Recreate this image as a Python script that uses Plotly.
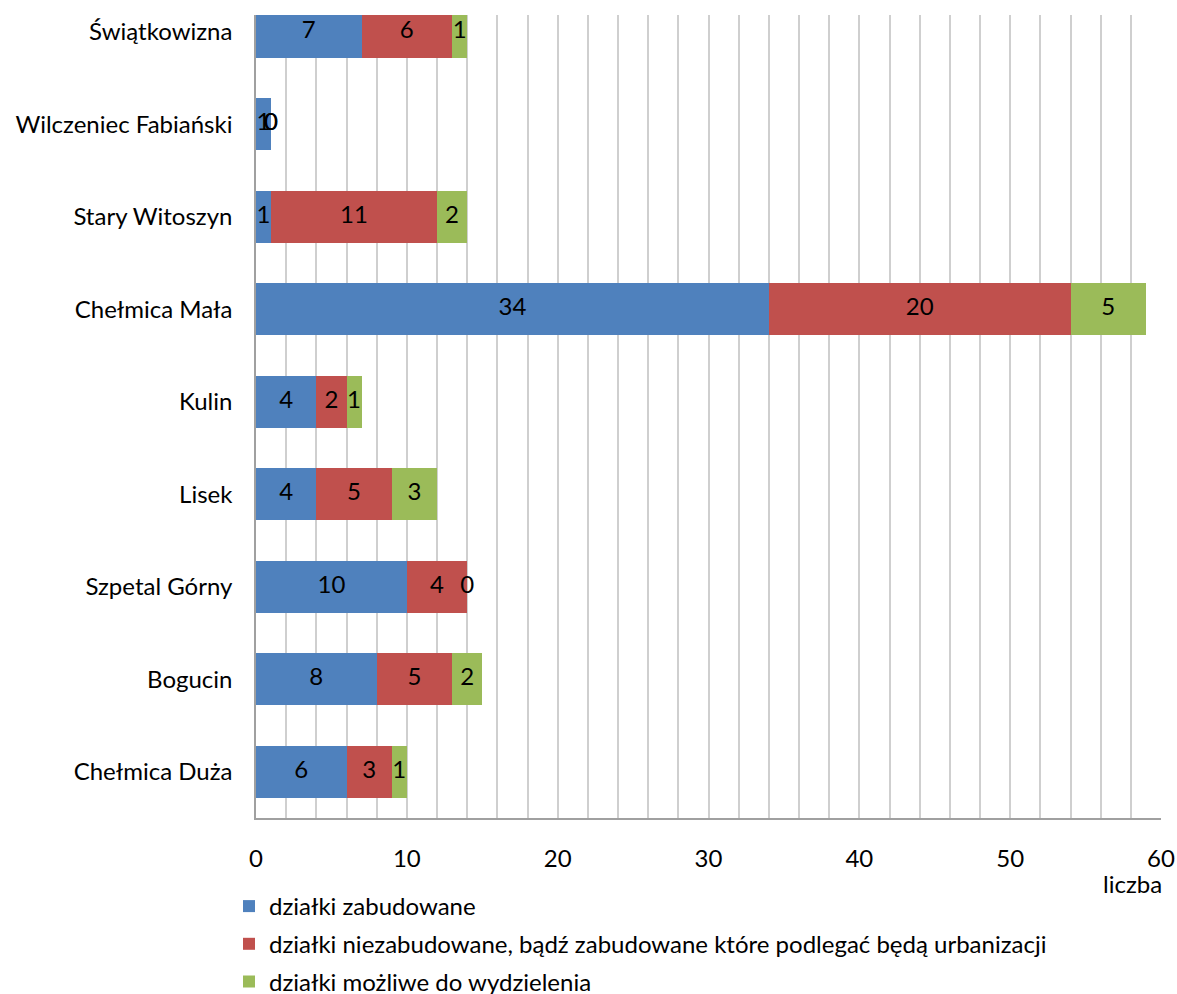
import plotly.graph_objects as go
import numpy as np

categories = ["Chełmica Duża", "Bogucin", "Szpetal Górny", "Lisek", "Kulin",
              "Chełmica Mała", "Stary Witoszyn", "Wilczeniec Fabiański", "Świątkowizna"]
zabudowane = [6, 8, 10, 4, 4, 34, 1, 1, 7]
niezabudowane = [3, 5, 4, 5, 2, 20, 11, 0, 6]
mozliwe = [1, 2, 0, 3, 1, 5, 2, 0, 1]

series_names = ["działki zabudowane",
                "działki niezabudowane, bądź zabudowane które podlegać będą urbanizacji",
                "działki możliwe do wydzielenia"]
series_values = [zabudowane, niezabudowane, mozliwe]
colors = ["#4F81BD", "#C0504D", "#9BBB59"]

xticks = [0, 10, 20, 30, 40, 50, 60]
x_title = "liczba"

FONT = "Lato"
FS = 24
fig = go.Figure()

for i, (name, vals, col) in enumerate(zip(series_names, series_values, colors)):
    fig.add_trace(go.Bar(
        y=categories, x=vals, name=name, orientation="h",
        marker=dict(color=col, line=dict(width=0)),
        legendgroup=f"g{i}", hoverinfo="x+name",
    ))

# data labels (including zeros) at centre of each segment
base = np.zeros(len(categories))
for vals in series_values:
    v = np.array(vals, dtype=float)
    centers = base + v / 2
    fig.add_trace(go.Scatter(
        y=categories, x=centers, mode="text", text=[str(int(a)) for a in v],
        textposition="middle center",
        textfont=dict(family=FONT, size=FS, color="#000000"),
        showlegend=False, hoverinfo="skip", cliponaxis=False,
    ))
    base = base + v

fig.update_layout(
    width=1177, height=994,
    barmode="stack", bargap=0.44,
    plot_bgcolor="white", paper_bgcolor="white",
    margin=dict(l=256, r=16, t=15, b=176, autoexpand=False),
    font=dict(family=FONT, size=FS, color="#000000"),
    showlegend=True,
    legend=dict(
        xref="container", yref="container",
        x=229 / 1177, y=1 - 884 / 994, xanchor="left", yanchor="top",
        traceorder="grouped", tracegroupgap=3.5,
        font=dict(family=FONT, size=FS, color="#000000"),
        bgcolor="rgba(0,0,0,0)", itemclick=False,
    ),
    xaxis=dict(
        range=[0, 60], tickvals=xticks, showgrid=True,
        gridcolor="#CFCFCF", gridwidth=1.5,
        minor=dict(dtick=2, showgrid=True, gridcolor="#CFCFCF", gridwidth=1.5),
        showline=True, linecolor="#A0A0A0", linewidth=1.5,
        zeroline=False, ticks="", ticklabelstandoff=18,
        tickfont=dict(family=FONT, size=FS, color="#000000"),
        fixedrange=True,
    ),
    yaxis=dict(
        type="category", categoryorder="array", categoryarray=categories,
        range=[-0.5, 8.18], showgrid=False,
        showline=True, linecolor="#A0A0A0", linewidth=1.5,
        ticks="", ticklabelstandoff=17,
        tickfont=dict(family=FONT, size=FS, color="#000000"),
        fixedrange=True,
    ),
    annotations=[dict(
        text=x_title, xref="paper", yref="paper", x=1.0, y=-(884 - 818) / 803,
        xanchor="right", yanchor="middle", showarrow=False, xshift=3,
        font=dict(family=FONT, size=FS, color="#000000"),
    )],
)

fig.write_html("out.html", config={"displayModeBar": False},
               post_script="document.body.style.margin='0';document.body.style.overflow='hidden';")
